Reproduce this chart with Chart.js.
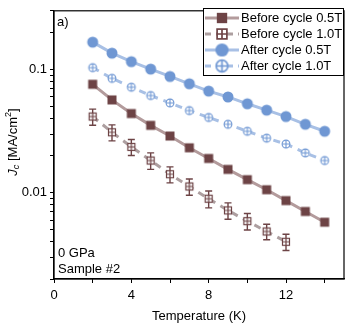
<!DOCTYPE html>
<html>
<head>
<meta charset="utf-8">
<script src="https://cdn.jsdelivr.net/npm/chart.js@4.4.1/dist/chart.umd.min.js"></script>
<style>
html,body{margin:0;padding:0;background:#fff;}
#wrap{width:353px;height:324px;position:relative;}
</style>
</head>
<body>
<div id="wrap"><canvas id="c" width="353" height="324"></canvas></div>
<script>
// ---- data ----
const temps = [2,3,4,5,6,7,8,9,10,11,12,13,14];
const tempsShort = [2,3,4,5,6,7,8,9,10,11,12];
const beforeHalf = [0.076,0.0568,0.044,0.0353,0.0289,0.0232,0.019,0.0155,0.0128,0.0106,0.00865,0.00706,0.00578];
const beforeOne = [0.0416,0.031,0.0236,0.0183,0.01416,0.01127,0.00896,0.0072,0.00589,0.00486,0.00401];
const beforeOneErr = [0.0062,0.0046,0.0035,0.0028,0.0021,0.0017,0.0014,0.0011,0.0009,0.0007,0.0006];
const afterHalf = [0.167,0.136,0.116,0.101,0.088,0.0767,0.0669,0.060,0.0528,0.0469,0.0416,0.036,0.0316];
const afterOne = [0.1037,0.0849,0.072,0.0616,0.0537,0.0465,0.0409,0.036,0.0316,0.0278,0.0249,0.0211,0.0183];
const seriesNames = ['Before cycle 0.5T','Before cycle 1.0T','After cycle 0.5T','After cycle 1.0T'];
const xTicks = [0,2,4,6,8,10,12,14];
const xLabels = [0,4,8,12];
const yLabels = [0.01,0.1];

const BROWN = '#6d4345', BROWN_L = '#b39b9c', BROWN_D = '#ad9fa0';
const BLUE = '#6f97d3', BLUE_L = '#a8c0e5';
const FONT = '"Liberation Sans", Arial, sans-serif';

function marker(kind, scale){
  const s = scale||1;
  const c = document.createElement('canvas');
  const n = Math.round(14*s); c.width = n; c.height = n;
  const g = c.getContext('2d'); const m = n/2;
  if(kind==='sq'){ g.fillStyle=BROWN; const h=4.5*s; g.fillRect(m-h,m-h,2*h,2*h); }
  if(kind==='sqx'){ const h=3.5*s; g.fillStyle='#fff'; g.fillRect(m-h,m-h,2*h,2*h);
    g.strokeStyle=BROWN; g.lineWidth=1.2*s; g.strokeRect(m-h,m-h,2*h,2*h);
    g.beginPath(); g.moveTo(m-h,m); g.lineTo(m+h,m); g.moveTo(m,m-h); g.lineTo(m,m+h); g.stroke(); }
  if(kind==='ci'){ g.fillStyle=BLUE; g.beginPath(); g.arc(m,m,5.5*s,0,Math.PI*2); g.fill(); }
  if(kind==='cix'){ const r=3.9*s; g.fillStyle='#fff'; g.beginPath(); g.arc(m,m,r,0,Math.PI*2); g.fill();
    g.strokeStyle=BLUE; g.lineWidth=1.1*s; g.stroke();
    g.beginPath(); g.moveTo(m-r,m); g.lineTo(m+r,m); g.moveTo(m,m-r); g.lineTo(m,m+r); g.stroke(); }
  return c;
}
const mk = [marker('sq'),marker('sqx'),marker('ci'),marker('cix')];
const mkL = [marker('sq',1.15),marker('sqx',1.4),marker('ci',1.2),marker('cix',1.5)];

function pts(xs, ys){ return xs.map((x,i)=>({x:x,y:ys[i]})); }

const datasets = [
  {label:seriesNames[0], data:pts(temps,beforeHalf), borderColor:BROWN_L, borderWidth:3, pointStyle:mk[0], order:3},
  {label:seriesNames[1], data:pts(tempsShort,beforeOne), borderColor:BROWN_D, borderWidth:3, borderDash:[7,6], pointStyle:mk[1], order:4},
  {label:seriesNames[2], data:pts(temps,afterHalf), borderColor:BLUE_L, borderWidth:3, pointStyle:mk[2], order:1},
  {label:seriesNames[3], data:pts(temps,afterOne), borderColor:BLUE_L, borderWidth:3, borderDash:[7,6], pointStyle:mk[3], order:2}
];

const errPlugin = {
  id:'err',
  beforeDatasetsDraw(chart){
    const xs=chart.scales.x, ys=chart.scales.y, g=chart.ctx;
    g.save(); g.strokeStyle=BROWN; g.lineWidth=1.4;
    tempsShort.forEach((t,i)=>{
      const px=xs.getPixelForValue(t);
      const y1=ys.getPixelForValue(beforeOne[i]+beforeOneErr[i]);
      const y2=ys.getPixelForValue(beforeOne[i]-beforeOneErr[i]);
      g.beginPath(); g.moveTo(px,y1); g.lineTo(px,y2);
      g.moveTo(px-3.5,y1); g.lineTo(px+3.5,y1);
      g.moveTo(px-3.5,y2); g.lineTo(px+3.5,y2); g.stroke();
    });
    g.restore();
  }
};

const decoPlugin = {
  id:'deco',
  afterDraw(chart){
    const a=chart.chartArea, g=chart.ctx;
    g.save();
    g.strokeStyle='#000'; g.lineWidth=1.2;
    g.strokeRect(a.left, a.top, a.right-a.left, a.bottom-a.top);
    g.fillStyle='#000'; g.font='13px '+FONT; g.textBaseline='middle'; g.textAlign='left';
    g.fillText('a)', a.left+3, a.top+12);
    g.fillText('0 GPa', a.left+4, 253);
    g.fillText('Sample #2', a.left+4, 269);
    // legend
    const lx=203, ly=8, lw=140, lh=67;
    g.fillStyle='#fff'; g.fillRect(lx,ly,lw,lh);
    g.strokeStyle='#000'; g.lineWidth=1; g.strokeRect(lx+0.5,ly+0.5,lw,lh);
    const rows=[18,34,50,66];
    chart.data.datasets.forEach((ds,i)=>{
      const y=rows[i];
      g.save(); g.strokeStyle=ds.borderColor; g.lineWidth=3;
      if(ds.borderDash) g.setLineDash([6,5]);
      g.beginPath(); g.moveTo(lx+2,y); g.lineTo(lx+36,y); g.stroke(); g.restore();
      const m=mkL[i]; g.drawImage(m, lx+19-m.width/2, y-m.height/2);
      g.fillStyle='#000'; g.font='13px '+FONT; g.textAlign='left'; g.textBaseline='middle';
      g.fillText(ds.label, lx+38, y+0.5);
    });
    // y title: J_c [MA/cm^2]
    g.translate(13, 142); g.rotate(-Math.PI/2);
    g.textBaseline='middle';
    const parts=[['J','italic 13px '+FONT,0],['c','italic 9px '+FONT,3.5],[' [MA/cm','13px '+FONT,0],['2','9px '+FONT,-4.5],[']','13px '+FONT,0]];
    let w=0; parts.forEach(p=>{g.font=p[1]; w+=g.measureText(p[0]).width;});
    let x=-w/2;
    parts.forEach(p=>{g.font=p[1]; g.fillStyle='#000'; g.textAlign='left'; g.fillText(p[0], x, p[2]); x+=g.measureText(p[0]).width;});
    g.restore();
  }
};

new Chart(document.getElementById('c'), {
  type:'line',
  data:{datasets:datasets},
  plugins:[errPlugin, decoPlugin],
  options:{
    responsive:false, animation:false, devicePixelRatio:1,
    layout:{padding:{left:0,top:6,right:9,bottom:0}},
    elements:{point:{radius:5}, line:{tension:0}},
    plugins:{legend:{display:false}, tooltip:{enabled:false}},
    scales:{
      x:{type:'linear', min:0, max:15,
        afterBuildTicks(s){ s.ticks = xTicks.map(v=>({value:v})); },
        afterFit(s){ s.height=45; },
        ticks:{autoSkip:false, maxRotation:0, padding:5, color:'#000', font:{family:FONT,size:13},
          callback:(v)=> xLabels.includes(v) ? String(v) : ''},
        grid:{drawOnChartArea:false, tickLength:4, tickColor:'#000', tickWidth:1},
        border:{display:true, color:'#000', width:1.2},
        title:{display:true, text:'Temperature (K)', color:'#000', font:{family:FONT,size:13}, padding:{top:0,bottom:0}}
      },
      y:{type:'logarithmic', min:0.002, max:0.3,
        afterBuildTicks(s){
          const t=[]; [0.001,0.01,0.1].forEach(d=>{for(let k=1;k<10;k++){const v=+(k*d).toPrecision(3); if(v>=0.002&&v<=0.3) t.push({value:v});}});
          s.ticks=t;
        },
        afterFit(s){ s.width=54; },
        ticks:{autoSkip:false, padding:3, color:'#000', font:{family:FONT,size:13},
          callback:(v)=> yLabels.some(l=>Math.abs(l-v)<1e-9) ? String(v) : ''},
        grid:{drawOnChartArea:false, tickLength:4, tickColor:'#000', tickWidth:1},
        border:{display:true, color:'#000', width:1.2}
      }
    }
  }
});
</script>
</body>
</html>
